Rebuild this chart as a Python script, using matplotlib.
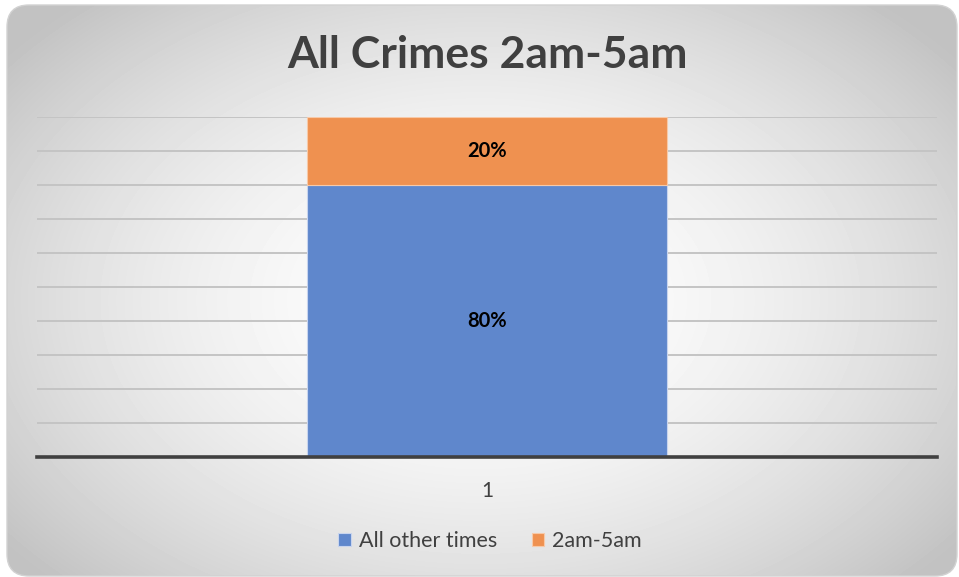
import matplotlib.pyplot as plt
import numpy as np
from matplotlib.patches import FancyBboxPatch

categories = ['1']
other_times = [0.80]
early_hours = [0.20]
series_names = ['All other times', '2am-5am']
colors = ['#5f87cc', '#ef9150']

plt.rcParams['font.family'] = ['Lato', 'DejaVu Sans']

fig = plt.figure(figsize=(9.59, 5.77), dpi=100)

# background: rounded card with radial grey gradient
bg = fig.add_axes([0, 0, 1, 1])
bg.set_xlim(0, 959)
bg.set_ylim(577, 0)
bg.axis('off')
yy, xx = np.mgrid[0:577, 0:959]
r = np.sqrt(((xx - 480) / 600.0) ** 2 + ((yy - 300) / 400.0) ** 2)
shade = 1 - 0.24 * np.clip(r, 0, 1) ** 1.8
img = bg.imshow(shade, cmap='gray', vmin=0, vmax=1, extent=(0, 959, 577, 0),
                interpolation='bilinear')
card = FancyBboxPatch((7, 5), 950, 571, boxstyle='round,pad=0,rounding_size=22',
                      facecolor='none', edgecolor='#d2d2d2', linewidth=1)
bg.add_patch(card)
img.set_clip_path(card)

ax = fig.add_axes([37 / 959, 1 - 457 / 577, 900 / 959, 340 / 577])
ax.set_facecolor('none')
x = np.arange(len(categories)) + 1
bars1 = ax.bar(x, other_times, width=0.399, color=colors[0], edgecolor='#c8d4ee',
               linewidth=0.8, label=series_names[0], zorder=3)
bars2 = ax.bar(x, early_hours, bottom=other_times, width=0.399, color=colors[1],
               edgecolor='#f7c9a8', linewidth=0.8, label=series_names[1], zorder=3)
for b, v in zip(bars1, other_times):
    ax.text(b.get_x() + b.get_width() / 2, v / 2, f'{v:.0%}', ha='center', va='center',
            fontsize=14.5, fontweight='bold', color='black', zorder=4)
for b, base, v in zip(bars2, other_times, early_hours):
    ax.text(b.get_x() + b.get_width() / 2, base + v / 2, f'{v:.0%}', ha='center',
            va='center', fontsize=14.5, fontweight='bold', color='black', zorder=4)

ax.set_xlim(0.5, 1.5)
ax.set_ylim(0, 1)
ax.set_yticks(np.linspace(0, 1, 11))
ax.yaxis.grid(True, color='#c4c4c4', linewidth=1.4, zorder=0)
ax.tick_params(axis='y', left=False, labelleft=False)
ax.set_xticks(x)
ax.set_xticklabels(categories)
ax.tick_params(axis='x', length=0, pad=17, labelsize=15, labelcolor='#404040')
for s in ['top', 'right', 'left']:
    ax.spines[s].set_visible(False)
ax.spines['bottom'].set_color('#404040')
ax.spines['bottom'].set_linewidth(2.6)
ax.spines['bottom'].set_zorder(5)

fig.text(487 / 959, 1 - 55 / 577, 'All Crimes 2am-5am', ha='center', va='center',
         fontsize=32, fontweight='bold', color='#404040')

fig.legend(handles=[bars1, bars2], labels=series_names, loc='center',
           bbox_to_anchor=(490 / 959, 1 - 541 / 577), ncol=2, frameon=False,
           fontsize=15.5, labelcolor='#404040', handlelength=0.6, handleheight=0.6,
           handletextpad=0.35, columnspacing=1.6)

fig.savefig('out.png', dpi=100)
